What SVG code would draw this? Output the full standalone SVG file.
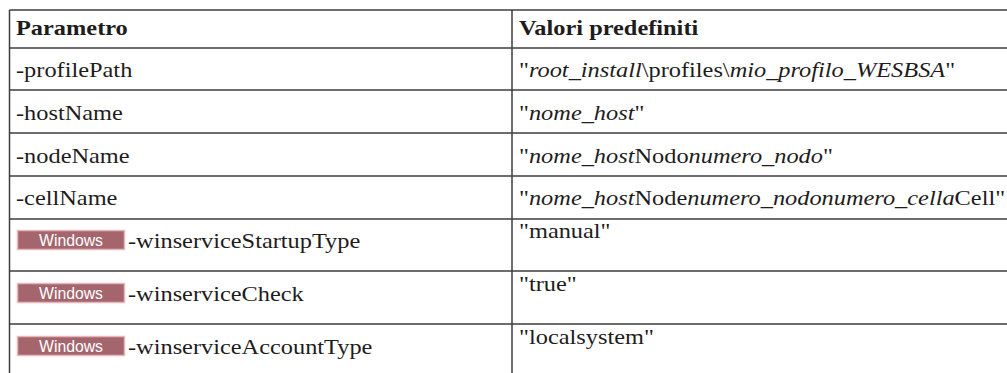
<svg xmlns="http://www.w3.org/2000/svg" width="1007" height="373" viewBox="0 0 1007 373">
<style>
.t{font-family:"Liberation Serif","Times New Roman",serif;font-size:21px;fill:#1e1c1c}
.h{font-weight:bold}
.i{font-style:italic}
.ln{stroke:#3c3c3c;stroke-width:1.5;fill:none}
.badge rect{fill:#a5656d;stroke:#e6b6ba;stroke-width:1.5}
.badge text{font-family:"Liberation Sans",Arial,sans-serif;font-size:16px;fill:#fff;text-anchor:middle}
</style>
<rect width="1007" height="373" fill="#fff"/>
<g id="grid">
<line class="ln" x1="9.5" y1="10" x2="1007" y2="10"/>
<line class="ln" x1="9.5" y1="48" x2="1007" y2="48"/>
<line class="ln" x1="9.5" y1="90" x2="1007" y2="90"/>
<line class="ln" x1="9.5" y1="133" x2="1007" y2="133"/>
<line class="ln" x1="9.5" y1="176" x2="1007" y2="176"/>
<line class="ln" x1="9.5" y1="219" x2="1007" y2="219"/>
<line class="ln" x1="9.5" y1="271" x2="1007" y2="271"/>
<line class="ln" x1="9.5" y1="324" x2="1007" y2="324"/>
<line class="ln" x1="9.5" y1="10" x2="9.5" y2="373"/>
<line class="ln" x1="512" y1="10" x2="512" y2="373"/>
</g>
<g id="header">
<text class="t h" transform="translate(16,35) scale(1.16,1)">Parametro</text>
<text class="t h" transform="translate(519,35) scale(1.16,1)">Valori predefiniti</text>
</g>
<g id="row-profilePath">
<text class="t" transform="translate(16,77) scale(1.16,1)">-profilePath</text>
<text class="t" transform="translate(519,77) scale(1.16,1)">"<tspan class="i">root_install</tspan>\profiles\<tspan class="i">mio_profilo_WESBSA</tspan>"</text>
</g>
<g id="row-hostName">
<text class="t" transform="translate(16,120) scale(1.16,1)">-hostName</text>
<text class="t" transform="translate(519,120) scale(1.16,1)">"<tspan class="i">nome_host</tspan>"</text>
</g>
<g id="row-nodeName">
<text class="t" transform="translate(16,163) scale(1.16,1)">-nodeName</text>
<text class="t" transform="translate(519,163) scale(1.16,1)">"<tspan class="i">nome_host</tspan>Nodo<tspan class="i">numero_nodo</tspan>"</text>
</g>
<g id="row-cellName">
<text class="t" transform="translate(16,205) scale(1.16,1)">-cellName</text>
<text class="t" transform="translate(519,205) scale(1.16,1)">"<tspan class="i">nome_host</tspan>Node<tspan class="i">numero_nodonumero_cella</tspan>Cell"</text>
</g>
<g id="row-startup">
<g class="badge"><rect x="17.5" y="230.5" width="107" height="19"/><text x="71" y="246" textLength="64" lengthAdjust="spacingAndGlyphs">Windows</text></g>
<text class="t" transform="translate(128,248) scale(1.16,1)">-winserviceStartupType</text>
<text class="t" transform="translate(519,238) scale(1.16,1)">"manual"</text>
</g>
<g id="row-check">
<g class="badge"><rect x="17.5" y="283.5" width="107" height="19"/><text x="71" y="299" textLength="64" lengthAdjust="spacingAndGlyphs">Windows</text></g>
<text class="t" transform="translate(128,301) scale(1.16,1)">-winserviceCheck</text>
<text class="t" transform="translate(519,291) scale(1.16,1)">"true"</text>
</g>
<g id="row-account">
<g class="badge"><rect x="17.5" y="336.5" width="107" height="19"/><text x="71" y="352" textLength="64" lengthAdjust="spacingAndGlyphs">Windows</text></g>
<text class="t" transform="translate(128,354) scale(1.16,1)">-winserviceAccountType</text>
<text class="t" transform="translate(519,344) scale(1.16,1)">"localsystem"</text>
</g>
</svg>
